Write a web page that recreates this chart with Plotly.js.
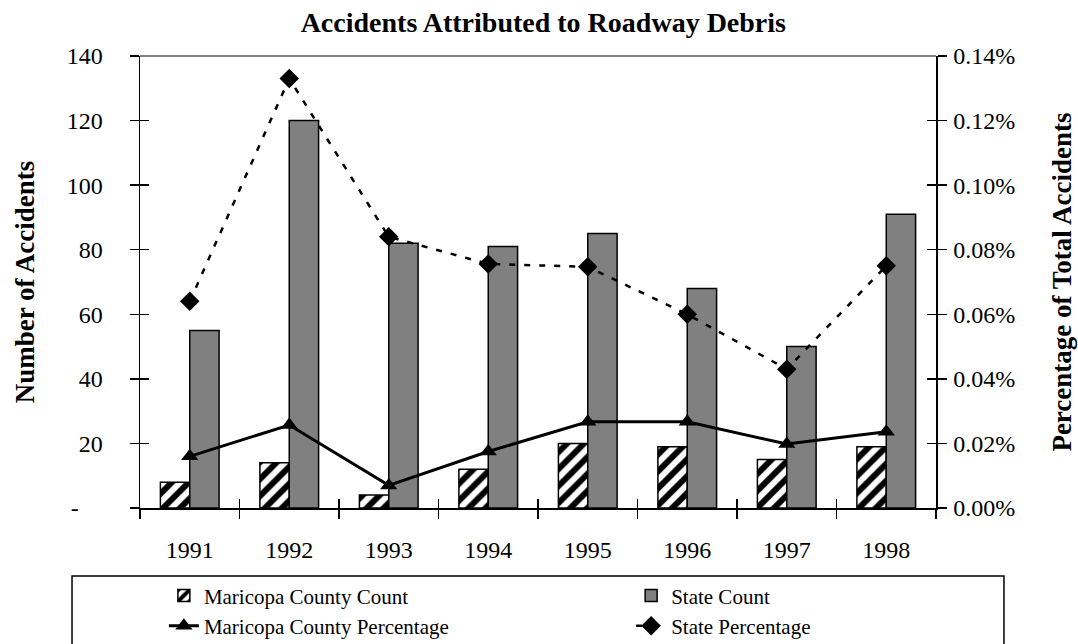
<!DOCTYPE html>
<html>
<head>
<meta charset="utf-8">
<script src="https://cdn.plot.ly/plotly-3.0.1.min.js"></script>
<style>html,body{margin:0;padding:0;background:#fff;}#chart{width:1078px;height:644px;}</style>
</head>
<body>
<div id="chart"></div>
<script>
const years = ['1991','1992','1993','1994','1995','1996','1997','1998'];
const maricopaCount = [8, 14, 4, 12, 20, 19, 15, 19];
const stateCount = [55, 120, 82, 81, 85, 68, 50, 91];
const maricopaPct = [0.00016, 0.000257, 0.00007, 0.000175, 0.000267, 0.000267, 0.000198, 0.000236];
const statePct = [0.00064, 0.00133, 0.00084, 0.000756, 0.000747, 0.0006, 0.00043, 0.00075];
const countTicks = [0, 20, 40, 60, 80, 100, 120, 140];
const countTickText = ['-\u00a0\u00a0\u00a0\u00a0', '20', '40', '60', '80', '100', '120', '140'];
const pctTicks = [0, 0.0002, 0.0004, 0.0006, 0.0008, 0.0010, 0.0012, 0.0014];

const SERIF = 'Liberation Serif, Times New Roman, serif';
const boundaries = years.map((_, i) => i - 0.5).concat([years.length - 0.5]);

const traces = [
  {
    type: 'bar', name: 'Maricopa County Count', x: years, y: maricopaCount, legend: 'legend',
    marker: {color: '#ffffff', line: {color: '#000', width: 1.5},
      pattern: {shape: '/', fgcolor: '#000', bgcolor: '#fff', size: 12, solidity: 0.5}},
    hoverinfo: 'skip'
  },
  {
    type: 'bar', name: 'State Count', x: years, y: stateCount, legend: 'legend2',
    marker: {color: '#808080', line: {color: '#000', width: 1.5}},
    hoverinfo: 'skip'
  },
  {
    type: 'scatter', mode: 'lines+markers', name: 'Maricopa County Percentage', x: years, y: maricopaPct,
    yaxis: 'y2', legend: 'legend', line: {color: '#000', width: 3},
    marker: {symbol: 'triangle-up', size: 15, color: '#000'},
    hoverinfo: 'skip'
  },
  {
    type: 'scatter', mode: 'lines+markers', name: 'State Percentage', x: years, y: statePct,
    yaxis: 'y2', legend: 'legend2', line: {color: '#000', width: 2.5, dash: '6px,9px'},
    marker: {symbol: 'diamond', size: 15, color: '#000'},
    hoverinfo: 'skip'
  },
  {type: 'scatter', x: [], y: [], xaxis: 'x3', yaxis: 'y', showlegend: false, hoverinfo: 'skip'},
  {type: 'scatter', x: [], y: [], xaxis: 'x', yaxis: 'y3', showlegend: false, hoverinfo: 'skip'},
  {type: 'scatter', x: [], y: [], xaxis: 'x', yaxis: 'y4', showlegend: false, hoverinfo: 'skip'}
];

const tickFont = {family: SERIF, size: 24, color: '#000'};
const axisTitleFont = {family: SERIF, size: 27, color: '#000', weight: 'bold'};
const legendFont = {family: SERIF, size: 21, color: '#000'};

const layout = {
  width: 1078, height: 644,
  margin: {l: 140, r: 142, t: 56, b: 136, autoexpand: false},
  paper_bgcolor: '#fff', plot_bgcolor: '#fff',
  showlegend: true,
  barmode: 'group', bargap: 0.41, bargroupgap: 0,
  title: {text: 'Accidents Attributed to Roadway Debris',
    font: {family: SERIF, size: 28, color: '#000', weight: 'bold'},
    x: 0.504, xanchor: 'center', y: 0.966, yanchor: 'middle'},
  xaxis: {
    type: 'category', categoryorder: 'array', categoryarray: years, range: [-0.5, 7.5],
    tickson: 'boundaries', ticks: 'outside', ticklen: 9, tickwidth: 1.5, tickcolor: '#000',
    showline: true, linecolor: '#000', linewidth: 1.5, showgrid: false, zeroline: false,
    tickfont: tickFont, ticklabelstandoff: 20
  },
  xaxis3: {
    overlaying: 'x', anchor: 'y', type: 'linear', range: [-0.5, 7.5],
    tickmode: 'array', tickvals: boundaries, ticks: 'inside', ticklen: 9, tickwidth: 1.5, tickcolor: '#000',
    showticklabels: false, showline: false, showgrid: false, zeroline: false
  },
  yaxis: {
    range: [0, 140], tickmode: 'array', tickvals: countTicks, ticktext: countTickText,
    ticks: 'outside', ticklen: 9, tickwidth: 1.5, tickcolor: '#000',
    showline: true, linecolor: '#000', linewidth: 1.5, showgrid: false, zeroline: false,
    tickfont: tickFont, ticklabelstandoff: 22,
    title: {text: 'Number of Accidents', font: axisTitleFont, standoff: 24}
  },
  yaxis3: {
    overlaying: 'y', anchor: 'x', side: 'left', range: [0, 140],
    tickmode: 'array', tickvals: countTicks, ticks: 'inside', ticklen: 9, tickwidth: 1.5, tickcolor: '#000',
    showticklabels: false, showline: false, showgrid: false, zeroline: false
  },
  yaxis2: {
    overlaying: 'y', anchor: 'x', side: 'right', range: [0, 0.0014],
    tickmode: 'array', tickvals: pctTicks, tickformat: '.2%',
    ticks: 'outside', ticklen: 9, tickwidth: 1.5, tickcolor: '#000',
    showline: true, linecolor: '#000', linewidth: 1.5, showgrid: false, zeroline: false,
    tickfont: tickFont, ticklabelstandoff: 2,
    title: {text: 'Percentage of Total Accidents', font: axisTitleFont, standoff: 38}
  },
  yaxis4: {
    overlaying: 'y', anchor: 'x', side: 'right', range: [0, 0.0014],
    tickmode: 'array', tickvals: pctTicks, ticks: 'inside', ticklen: 9, tickwidth: 1.5, tickcolor: '#000',
    showticklabels: false, showline: false, showgrid: false, zeroline: false
  },
  legend: {
    orientation: 'v', x: 0.03, xanchor: 'left', y: -0.149, yanchor: 'top',
    font: legendFont, traceorder: 'normal', tracegroupgap: 0,
    bgcolor: 'rgba(0,0,0,0)', borderwidth: 0
  },
  legend2: {
    orientation: 'v', x: 0.617, xanchor: 'left', y: -0.149, yanchor: 'top',
    font: legendFont, traceorder: 'normal', tracegroupgap: 0,
    bgcolor: 'rgba(0,0,0,0)', borderwidth: 0
  },
  shapes: [
    {type: 'line', xref: 'paper', yref: 'paper', x0: 0, x1: 1, y0: 1, y1: 1,
      line: {color: '#808080', width: 2}, layer: 'below'},
    {type: 'rect', xref: 'paper', yref: 'paper', x0: -0.0854, x1: 1.0854, y0: -0.1504, y1: -0.33,
      line: {color: '#000', width: 1.5}, fillcolor: 'rgba(0,0,0,0)', layer: 'above'}
  ]
};

Plotly.newPlot('chart', traces, layout, {staticPlot: true, displayModeBar: false});
</script>
</body>
</html>
